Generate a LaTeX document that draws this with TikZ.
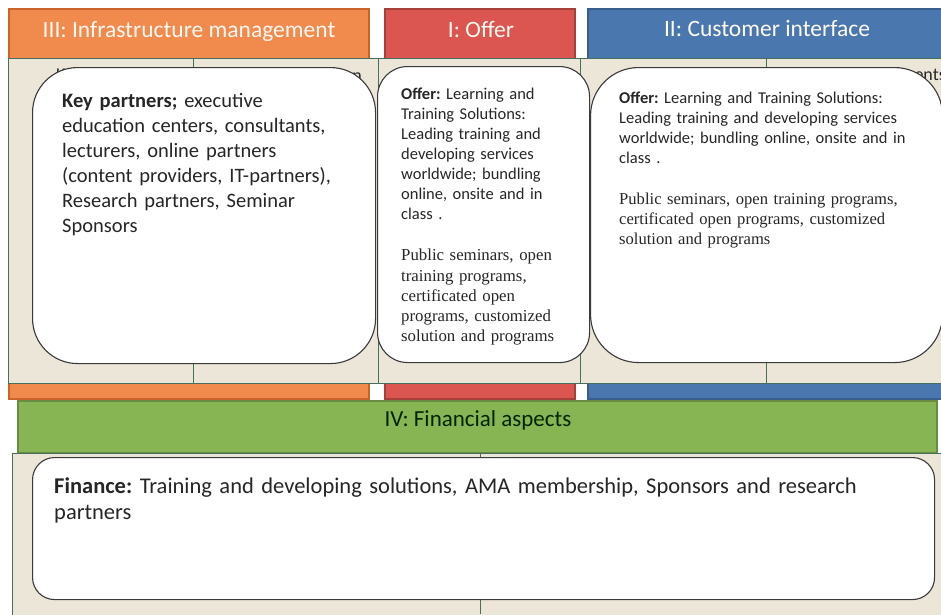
\documentclass[tikz,border=0pt]{standalone}
\usepackage{fontspec}
\setmainfont{Carlito}
\newfontfamily\serifa{Liberation Serif}
\frenchspacing
\definecolor{orF}{HTML}{F18A4D}
\definecolor{orD}{HTML}{C9652B}
\definecolor{rdF}{HTML}{DB5650}
\definecolor{rdD}{HTML}{A7403B}
\definecolor{blF}{HTML}{4A78AE}
\definecolor{blD}{HTML}{3A5E8C}
\definecolor{grF}{HTML}{87B553}
\definecolor{grD}{HTML}{6A8C42}
\definecolor{beige}{HTML}{ECE6D9}
\definecolor{pline}{HTML}{466F5E}
\definecolor{bline}{HTML}{3A3A3A}
\definecolor{txt}{HTML}{262626}
\begin{document}
\begin{tikzpicture}[x=1pt,y=-1pt,
  band/.style={line width=2pt},
  panel/.style={fill=beige,draw=pline,line width=0.8pt},
  wbox/.style={draw=bline,fill=white,line width=1.1pt,anchor=north west,inner sep=0pt},
  hdrtxt/.style={text=white!95!orange,font=\fontsize{23.5}{26}\selectfont,inner sep=0pt},
  body/.style={anchor=north west,inner sep=0pt,align=left,text=txt},
  ghost/.style={inner sep=0pt,text=txt,font=\fontsize{18}{20}\selectfont}]
\useasboundingbox (0,0) rectangle (941,614);
\fill[white] (0,0) rectangle (941,614);
% coloured bands (headers + bottom strips)
\draw[band,fill=orF,draw=orD] (9,9) rectangle (369,399);
\draw[band,fill=rdF,draw=rdD] (385,9) rectangle (575,399);
\draw[band,fill=blF,draw=blD] (588,9) rectangle (950,399);
% beige panels
\draw[panel] (8,58) rectangle (378,383);
\draw[panel] (378,58) rectangle (580,383);
\draw[panel] (580,58) rectangle (950,383);
\draw[pline,line width=0.8pt] (193,58) -- (193,383);
\draw[pline,line width=0.8pt] (766,58) -- (766,383);
% green bar
\draw[band,fill=grF,draw=grD] (18,401) rectangle (937,453);
% bottom panel
\draw[panel] (12,453) rectangle (950,620);
\draw[pline,line width=0.8pt] (480,453) -- (480,614);
% header texts
\node[hdrtxt] (h3) at (189,31) {III: Infrastructure management};
\node[hdrtxt] (h1) at (481,29) {I: Offer};
\node[hdrtxt] (h2) at (767,29) {II: Customer interface};
\node[hdrtxt,text=black!85!green,font=\fontsize{23}{26}\selectfont] (h4) at (478,420) {IV: Financial aspects};
% partly hidden labels
\node[ghost,anchor=north west] (g1) at (56,69) {Key partners};
\node[ghost,anchor=north east] (g2) at (362,69) {Value configuration};
\node[ghost,anchor=north east] (g3) at (946,69) {Customer segments};
% white boxes
\node[wbox,rounded corners=45pt,minimum width=343pt,minimum height=296pt] (kp) at (32,67) {};
\node[wbox,rounded corners=30pt,minimum width=212pt,minimum height=296pt] (of1) at (377,66) {};
\node[wbox,rounded corners=48pt,minimum width=352pt,minimum height=295pt] (of2) at (590,67) {};
\node[wbox,rounded corners=22pt,minimum width=902pt,minimum height=142pt] (fin) at (32,457) {};
% body texts
\node[body,text width=310pt,font=\fontsize{20.5}{25}\selectfont] (kpt) at (62,93)
  {\textbf{Key partners;} executive\\ education centers, consultants,\\ lecturers, online partners\\ (content providers, IT-partners),\\ Research partners, Seminar\\ Sponsors};
\node[body,text width=190pt,font=\fontsize{16.5}{20}\selectfont] (of1a) at (401,88)
  {\textbf{Offer:} Learning and\\ Training Solutions:\\ Leading training and\\ developing services\\ worldwide; bundling\\ online, onsite and in\\ class .};
\node[body,text width=190pt,font=\serifa\fontsize{16.8}{20.25}\selectfont] (of1b) at (401,249)
  {Public seminars, open\\ training programs,\\ certificated open\\ programs, customized\\ solution and programs};
\node[body,text width=320pt,font=\fontsize{16.5}{19.9}\selectfont] (of2a) at (619,92)
  {\textbf{Offer:} Learning and Training Solutions:\\ Leading training and developing services\\ worldwide; bundling online, onsite and in\\ class .};
\node[body,text width=320pt,font=\serifa\fontsize{16.6}{20}\selectfont] (of2b) at (619,193)
  {Public seminars, open training programs,\\ certificated open programs, customized\\ solution and programs};
\node[body,text width=880pt,font=\fontsize{22.5}{26}\selectfont] (fint) at (54,477)
  {\textbf{Finance:} Training and developing solutions, AMA membership, Sponsors and research\\ partners};
\end{tikzpicture}
\end{document}
